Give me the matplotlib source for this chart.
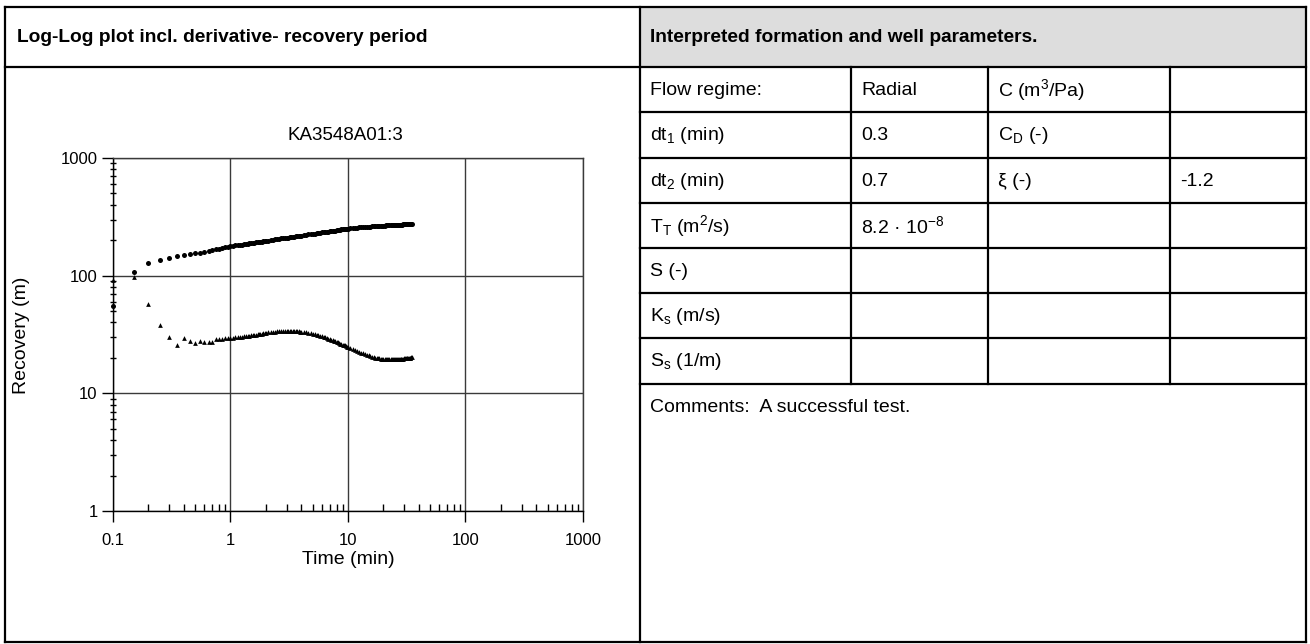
import matplotlib
matplotlib.use('Agg')
import matplotlib.pyplot as plt
from matplotlib.lines import Line2D
from matplotlib.patches import Rectangle
from matplotlib.ticker import LogLocator, NullFormatter, FixedLocator, FixedFormatter

plt.rcParams['font.family'] = ['Liberation Sans', 'DejaVu Sans']
plt.rcParams['mathtext.fontset'] = 'custom'
plt.rcParams['mathtext.rm'] = 'Liberation Sans'
plt.rcParams['mathtext.it'] = 'Liberation Sans:italic'

W, H = 1310, 644

# recovery period data
time_min = [0.1, 0.15, 0.2, 0.25, 0.3, 0.35, 0.4, 0.45, 0.5, 0.55, 0.6, 0.65, 0.7, 0.75, 0.8, 0.85, 0.9, 0.95, 1.0,
            1.05, 1.1, 1.15, 1.2, 1.25, 1.3, 1.35, 1.4, 1.45, 1.5, 1.55, 1.6, 1.65, 1.7, 1.75, 1.8, 1.85, 1.9, 1.95, 2.0,
            2.1, 2.2, 2.3, 2.4, 2.5, 2.6, 2.7, 2.8, 2.9, 3.0, 3.1, 3.2, 3.3, 3.4, 3.5, 3.6, 3.7, 3.8, 3.9, 4.0,
            4.2, 4.4, 4.6, 4.8, 5.0, 5.2, 5.4, 5.6, 5.8, 6.0, 6.2, 6.4, 6.6, 6.8, 7.0,
            7.2, 7.4, 7.6, 7.8, 8.0, 8.2, 8.4, 8.6, 8.8, 9.0, 9.2, 9.4, 9.6, 9.8, 10.0,
            10.5, 11, 11.5, 12, 12.5, 13, 13.5, 14, 14.5, 15, 15.5, 16, 16.5, 17, 17.5, 18, 18.5, 19, 19.5, 20,
            20.5, 21, 21.5, 22, 22.5, 23, 23.5, 24, 24.5, 25, 25.5, 26, 26.5, 27, 27.5, 28, 28.5, 29, 29.5, 30,
            30.5, 31, 31.5, 32, 32.5, 33, 33.5, 34, 34.5, 35]
recovery_m = [55, 107, 127, 137, 140, 147, 150, 153, 155, 157, 159, 162, 165, 168, 170, 172, 174, 176, 178,
              179, 181, 182, 183, 184, 185, 186, 187, 188, 189, 190, 191, 192, 193, 194, 194, 195, 196, 197, 198,
              199, 200, 202, 203, 204, 205, 207, 208, 209, 210, 211, 212, 213, 214, 215, 216, 217, 218, 218, 219,
              221, 222, 224, 225, 227, 228, 229, 230, 232, 233, 234, 235, 236, 237, 238,
              239, 240, 241, 242, 243, 244, 245, 246, 247, 247.5, 248, 249, 250, 251, 251.5,
              253, 254, 255, 256, 257, 258, 258.5, 259, 260, 261, 261.5, 262, 262.5, 263, 263.5, 264, 264.5, 265, 265.5, 266,
              266.5, 267, 267.5, 268, 268.3, 268.6, 268.9, 269.2, 269.5, 269.8, 270.1, 270.4, 270.7, 271, 271.3, 271.5,
              271.8, 272, 272.2, 272.4,
              272.6, 272.8, 273, 273.2, 273.4, 273.5, 273.7, 273.8, 274, 274.1]
derivative_m = [92, 98, 57, 38, 30, 25.5, 29.5, 28, 26.6, 27.7, 27.2, 27.2, 27.2, 28.8, 29.0, 29.2, 29.3, 29.5, 29.7,
                29.8, 30.0, 30.1, 30.3, 30.4, 30.6, 30.7, 30.9, 31.0, 31.2, 31.3, 31.5, 31.6, 31.8, 31.9, 32.1, 32.2,
                32.4, 32.5, 32.7,
                32.9, 33.1, 33.3, 33.5, 33.6, 33.8, 33.9, 34.0, 34.0, 34.0, 34.0, 34.0, 34.0, 33.9, 33.9, 33.8, 33.7,
                33.6, 33.5, 33.4,
                33.1, 32.9, 32.6, 32.3, 32.0, 31.7, 31.4, 31.1, 30.8, 30.5, 30.2, 29.9, 29.5, 29.2, 28.9,
                28.6, 28.3, 28.0, 27.7, 27.4, 27.1, 26.8, 26.5, 26.3, 26.0, 25.8, 25.5, 25.3, 25.0, 24.8,
                24.3, 23.9, 23.4, 23.0, 22.6, 22.2, 21.9, 21.5, 21.2, 21.0, 20.7, 20.5, 20.3, 20.1, 20.0, 19.9, 19.8,
                19.7, 19.65, 19.6,
                19.55, 19.5, 19.5, 19.5, 19.5, 19.5, 19.5, 19.5, 19.5, 19.5, 19.5, 19.5, 19.55, 19.6, 19.6, 19.65,
                19.7, 19.7, 19.75, 19.8,
                19.8, 19.85, 19.9, 19.95, 20.0, 20.05, 20.1, 20.15, 20.2, 20.2]

decade_ticks = [0.1, 1, 10, 100, 1000]
x_tick_labels = ['0.1', '1', '10', '100', '1000']
y_ticks = [1, 10, 100, 1000]
y_tick_labels = ['1', '10', '100', '1000']

well_id = 'KA3548A01:3'
header_left = 'Log-Log plot incl. derivative- recovery period'
header_right = 'Interpreted formation and well parameters.'
param_rows = [
    ['Flow regime:', 'Radial', r'C (m$^\mathrm{3}$/Pa)', ''],
    [r'dt$_\mathrm{1}$ (min)', '0.3', r'C$_\mathrm{D}$ (-)', ''],
    [r'dt$_\mathrm{2}$ (min)', '0.7', 'ξ (-)', '-1.2'],
    [r'T$_\mathrm{T}$ (m$^\mathrm{2}$/s)', r'8.2 · 10$^\mathrm{-8}$', '', ''],
    ['S (-)', '', '', ''],
    [r'K$_\mathrm{s}$ (m/s)', '', '', ''],
    [r'S$_\mathrm{s}$ (1/m)', '', '', ''],
]
comments = 'Comments:  A successful test.'

fig = plt.figure(figsize=(W / 100, H / 100), dpi=100)
fig.patch.set_facecolor('white')


def line(x0, y0, x1, y1, lw=1.6):
    fig.add_artist(Line2D([x0 / W, x1 / W], [1 - y0 / H, 1 - y1 / H], color='black', lw=lw,
                          solid_capstyle='projecting'))


def text(x, y, s, **kw):
    fig.text(x / W, 1 - y / H, s, **kw)


# frame geometry (pixels)
left, right, top, bottom = 5, 1306, 7, 642
mid = 640
head_b = 67
row_lines = [67, 112, 158, 203, 248, 293, 338, 384]
col_lines = [640, 851, 988, 1170, 1306]

fig.add_artist(Rectangle((mid / W, 1 - head_b / H), (right - mid) / W, (head_b - top) / H,
                         facecolor='#dddddd', edgecolor='none'))

line(left, top, right, top)
line(left, bottom, right, bottom)
line(left, top, left, bottom)
line(right, top, right, bottom)
line(mid, top, mid, bottom)
line(left, head_b, right, head_b)
for y in row_lines[1:]:
    line(mid, y, right, y)
for x in col_lines[1:-1]:
    line(x, row_lines[0], x, row_lines[-1])

text(17, 38, header_left, fontsize=13.8, fontweight='bold', va='center')
text(650, 38, header_right, fontsize=13.8, fontweight='bold', va='center')

for r, row in enumerate(param_rows):
    yc = (row_lines[r] + row_lines[r + 1]) / 2 + 1
    for c, s in enumerate(row):
        if s:
            text(col_lines[c] + 10, yc, s, fontsize=14, va='center')
text(650, 407, comments, fontsize=14, va='center')

# log-log plot
ax = fig.add_axes([113 / W, 1 - 511 / H, 470 / W, 353 / H])
ax.set_xscale('log')
ax.set_yscale('log')
ax.set_xlim(0.1, 1000)
ax.set_ylim(1, 1000)

ax.plot(time_min, recovery_m, 'o', ms=3.6, color='black', mew=0, clip_on=False)
ax.plot(time_min, derivative_m, '^', ms=3.4, color='black', mew=0, clip_on=False)

ax.xaxis.set_major_locator(FixedLocator(decade_ticks))
ax.xaxis.set_major_formatter(FixedFormatter(x_tick_labels))
ax.yaxis.set_major_locator(FixedLocator(y_ticks))
ax.yaxis.set_major_formatter(FixedFormatter(y_tick_labels))
ax.xaxis.set_minor_locator(LogLocator(base=10, subs=range(2, 10)))
ax.yaxis.set_minor_locator(LogLocator(base=10, subs=range(2, 10)))
ax.xaxis.set_minor_formatter(NullFormatter())
ax.yaxis.set_minor_formatter(NullFormatter())

ax.grid(True, which='major', color='#3a3a3a', lw=1)
for s in ax.spines.values():
    s.set_linewidth(1)
    s.set_color('black')
ax.spines['top'].set_color('#3a3a3a')
ax.spines['right'].set_color('#3a3a3a')

ax.tick_params(which='major', direction='out', length=8, width=1, labelsize=12)
ax.tick_params(axis='x', which='major', pad=8)
ax.tick_params(axis='y', which='major', pad=3)
ax.tick_params(axis='x', which='minor', direction='in', length=5, width=1)
ax.tick_params(axis='y', which='minor', direction='inout', length=5, width=1)

text(345, 136, well_id, fontsize=13.5, ha='center', va='center')
text(348, 559, 'Time (min)', fontsize=14, ha='center', va='center')
text(22, 335, 'Recovery (m)', fontsize=14, ha='center', va='center', rotation=90)

fig.savefig('out.png', dpi=100)
